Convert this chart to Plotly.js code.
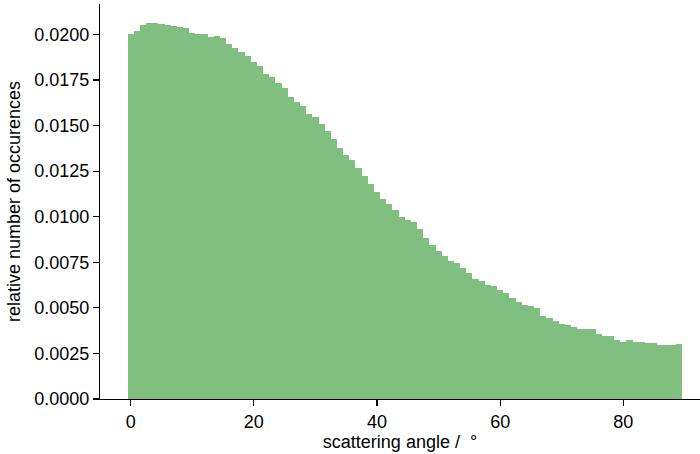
<!DOCTYPE html>
<html>
<head>
<meta charset="utf-8">
<script src="https://cdn.plot.ly/plotly-3.0.1.min.js"></script>
<style>html,body{margin:0;padding:0;background:#fff;}</style>
</head>
<body>
<div id="chart" style="width:700px;height:454px;"></div>
<script>
// bin centres (degrees), bin width 1
const angles = [0,1,2,3,4,5,6,7,8,9,10,11,12,13,14,15,16,17,18,19,20,21,22,23,24,25,26,27,28,29,
  30,31,32,33,34,35,36,37,38,39,40,41,42,43,44,45,46,47,48,49,50,51,52,53,54,55,56,57,58,59,
  60,61,62,63,64,65,66,67,68,69,70,71,72,73,74,75,76,77,78,79,80,81,82,83,84,85,86,87,88,89];
// relative number of occurences per bin
const occurrences = [
  0.02004,0.02021,0.02050,0.02061,0.02061,0.02058,0.02052,0.02047,0.02041,0.02037,
  0.02008,0.02004,0.02003,0.01988,0.01992,0.01983,0.01950,0.01926,0.01902,0.01882,
  0.01851,0.01826,0.01785,0.01765,0.01734,0.01707,0.01656,0.01630,0.01607,0.01566,
  0.01548,0.01510,0.01471,0.01427,0.01376,0.01336,0.01311,0.01270,0.01224,0.01177,
  0.01135,0.01099,0.01071,0.01038,0.00998,0.00984,0.00969,0.00933,0.00885,0.00843,
  0.00810,0.00786,0.00759,0.00746,0.00719,0.00692,0.00661,0.00649,0.00627,0.00618,
  0.00600,0.00582,0.00555,0.00533,0.00518,0.00511,0.00500,0.00458,0.00445,0.00430,
  0.00414,0.00408,0.00396,0.00386,0.00385,0.00383,0.00359,0.00348,0.00346,0.00326,
  0.00315,0.00321,0.00313,0.00311,0.00308,0.00306,0.00297,0.00297,0.00299,0.00300];
const binWidth = 1;
const xTicks = [0,20,40,60,80];
const yTicks = [0,0.0025,0.005,0.0075,0.01,0.0125,0.015,0.0175,0.02];
const xLabel = "scattering angle /  °";
const yLabel = "relative number of occurences";

const font = {family: "Liberation Sans, Arial, sans-serif", size: 18, color: "#000"};

Plotly.newPlot("chart", [{
  type: "bar",
  x: angles,
  y: occurrences,
  width: binWidth,
  marker: {color: "rgb(128,191,128)", line: {width: 0}},
  hoverinfo: "x+y"
}], {
  width: 700, height: 454,
  margin: {l: 100, r: 0, t: 4, b: 54.5, pad: 0},
  paper_bgcolor: "#fff", plot_bgcolor: "#fff",
  font: font,
  bargap: 0,
  showlegend: false,
  xaxis: {
    range: [-4.985, 92.45],
    tickmode: "array", tickvals: xTicks, ticktext: xTicks.map(String),
    ticks: "outside", ticklen: 6, tickwidth: 1.1, tickcolor: "#000",
    showline: true, linecolor: "#000", linewidth: 1.1, mirror: false,
    showgrid: false, zeroline: false,
    tickfont: font,
    title: {text: xLabel, font: font, standoff: 4}
  },
  yaxis: {
    range: [0, 0.02167],
    tickmode: "array", tickvals: yTicks, ticktext: yTicks.map(v => v.toFixed(4)),
    ticks: "outside", ticklen: 6, tickwidth: 1.1, tickcolor: "#000",
    showline: true, linecolor: "#000", linewidth: 1.1, mirror: false,
    showgrid: false, zeroline: false,
    tickfont: font,
    title: {text: yLabel, font: font, standoff: 8}
  }
}, {staticPlot: true, displayModeBar: false});
</script>
</body>
</html>
